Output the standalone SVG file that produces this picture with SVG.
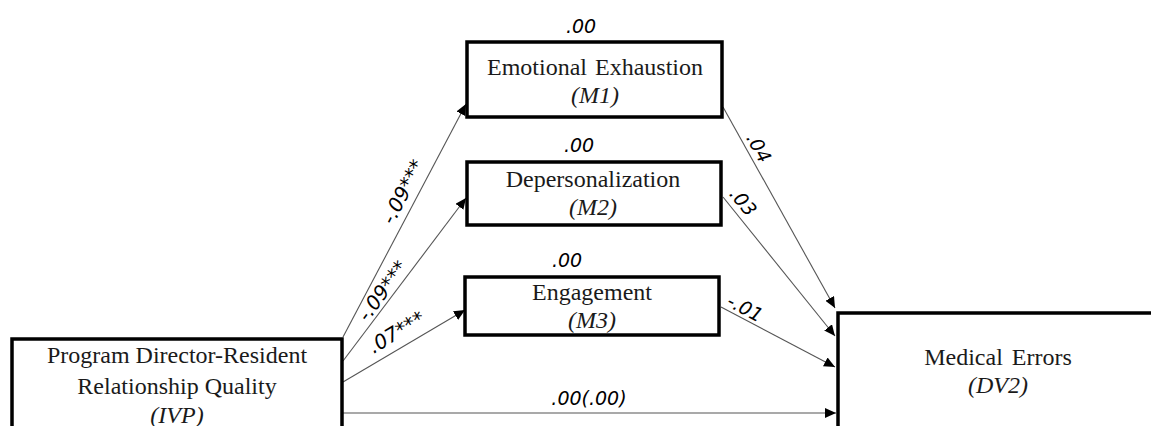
<svg xmlns="http://www.w3.org/2000/svg" width="1151" height="426" viewBox="0 0 1151 426">
<style>
.box{fill:#fff;stroke:#000;stroke-width:3.5}
.nt{font-family:"Liberation Serif","Times New Roman",serif;font-size:24px;fill:#1a1a1a;text-anchor:middle}
.it{font-style:italic}
.lab{font-family:"DejaVu Sans",sans-serif;font-style:italic;font-size:19px;fill:#000;text-anchor:middle}
.pl{font-size:20px}
.edge{stroke:#555;stroke-width:1.1;fill:none;marker-end:url(#ah)}
</style>
<defs>
<marker id="ah" markerUnits="userSpaceOnUse" markerWidth="12" markerHeight="10" refX="11" refY="5" orient="auto">
<path d="M0,0 L11,5 L0,10 Z" fill="#000"/>
</marker>
</defs>
<rect width="1151" height="426" fill="#fff"/>
<g id="connectors">
<line class="edge" x1="343" y1="337" x2="466" y2="104"/>
<line class="edge" x1="343" y1="361" x2="466" y2="198"/>
<line class="edge" x1="343" y1="382" x2="465" y2="310"/>
<line class="edge" x1="343" y1="413" x2="836" y2="413"/>
<line class="edge" x1="723" y1="107" x2="835" y2="308"/>
<line class="edge" x1="723" y1="197" x2="835" y2="336"/>
<line class="edge" x1="721" y1="307" x2="835" y2="367"/>
<text class="lab pl" transform="translate(409,195) rotate(-62.6)">-.09***</text>
<text class="lab pl" transform="translate(388,295) rotate(-53.5)">-.09***</text>
<text class="lab pl" transform="translate(400,338) rotate(-31)">.07***</text>
<text class="lab" transform="translate(753,151) rotate(60.9)">.04</text>
<text class="lab" transform="translate(738,206) rotate(51.3)">.03</text>
<text class="lab" transform="translate(742,314) rotate(27.8)">-.01</text>
<text class="lab" x="589" y="405">.00(.00)</text>
</g>
<g id="ivp">
<rect class="box" x="12" y="339" width="330" height="100"/>
<text class="nt" x="177" y="363">Program Director-Resident</text>
<text class="nt" x="177" y="394">Relationship Quality</text>
<text class="nt it" x="177" y="423">(IVP)</text>
</g>
<g id="m1">
<rect class="box" x="467" y="42" width="255" height="75"/>
<text class="nt" x="595" y="75" word-spacing="2">Emotional Exhaustion</text>
<text class="nt it" x="595" y="103">(M1)</text>
<text class="lab" x="581" y="33">.00</text>
</g>
<g id="m2">
<rect class="box" x="467" y="162" width="254" height="63"/>
<text class="nt" x="593" y="187">Depersonalization</text>
<text class="nt it" x="593" y="215">(M2)</text>
<text class="lab" x="579" y="152">.00</text>
</g>
<g id="m3">
<rect class="box" x="465" y="277" width="254" height="58"/>
<text class="nt" x="592" y="300">Engagement</text>
<text class="nt it" x="592" y="328">(M3)</text>
<text class="lab" x="567" y="267">.00</text>
</g>
<g id="dv2">
<rect class="box" x="838" y="313" width="330" height="130" stroke-width="4"/>
<text class="nt" x="998" y="365" word-spacing="3">Medical Errors</text>
<text class="nt it" x="998" y="393">(DV2)</text>
</g>
</svg>
